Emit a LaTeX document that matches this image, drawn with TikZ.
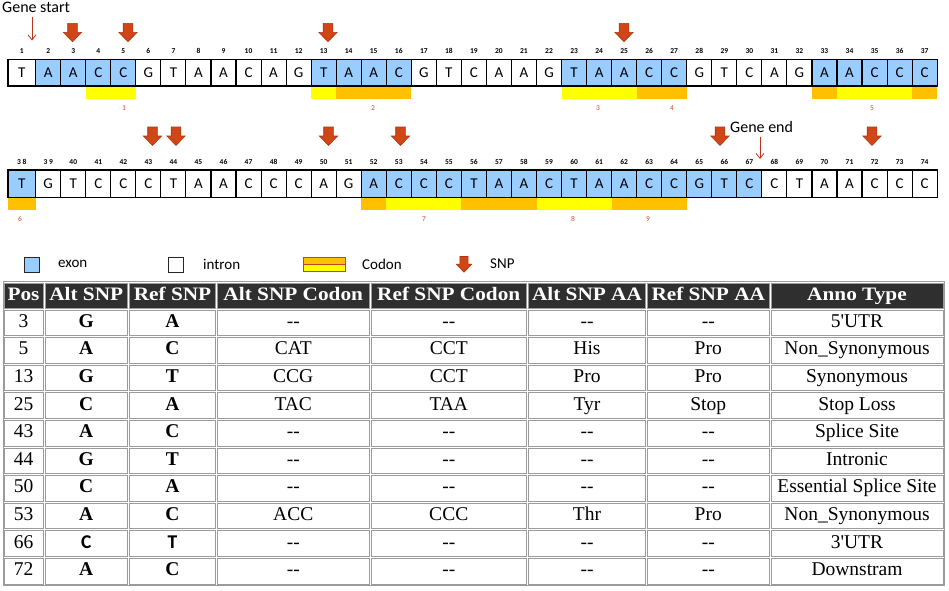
\documentclass[tikz,border=0pt]{standalone}
\usepackage{fontspec}
\setmainfont{Liberation Serif}
\newfontfamily\calib{Carlito}
\newfontfamily\bodyfont{Liberation Serif}
\newfontfamily\hdrfont[FakeStretch=1.12]{Liberation Serif}
\usetikzlibrary{arrows.meta}
\definecolor{exonblue}{RGB}{153,204,255}
\definecolor{cyellow}{RGB}{255,255,0}
\definecolor{corange}{RGB}{255,192,0}
\definecolor{snpfill}{RGB}{208,70,22}
\definecolor{snpedge}{RGB}{170,55,20}
\definecolor{cnum}{RGB}{220,70,40}
\definecolor{thinarrow}{RGB}{190,50,30}
\definecolor{hdrbg}{RGB}{47,47,47}
\definecolor{tgrid}{RGB}{155,155,155}
\definecolor{codonedge}{RGB}{185,70,40}
\tikzset{
  seqcell/.style={draw=black, line width=1.1pt, inner sep=0pt, outer sep=0pt,
    font=\calib\fontsize{15}{15}\selectfont},
  poslbl/.style={font=\calib\bfseries\fontsize{7.5}{8}\selectfont, inner sep=0pt},
  codonlbl/.style={font=\calib\fontsize{7.5}{8}\selectfont, text=cnum, inner sep=0pt},
  thinarr/.style={draw=thinarrow, line width=0.8pt, -{Straight Barb[length=5pt,width=8pt]}},
  lgtext/.style={font=\calib\fontsize{15}{16}\selectfont, anchor=west, inner sep=0pt},
  gtext/.style={font=\calib\fontsize{16}{17}\selectfont, anchor=west, inner sep=0pt},
  lgbox/.style={draw=black!85, line width=1pt, minimum size=15pt, inner sep=0pt},
  hdrcell/.style={fill=hdrbg, draw=tgrid, line width=1pt, text=white,
    font=\hdrfont\bfseries\fontsize{19}{19}\selectfont, inner sep=0pt,
    minimum height=25pt, text height=13pt, text depth=4pt},
  bodycell/.style={draw=tgrid, line width=1pt, font=\bodyfont\fontsize{19.5}{20}\selectfont,
    inner sep=0pt, minimum height=25.6pt, text height=13pt, text depth=4pt},
  snparrow/.pic={\filldraw[fill=snpfill, draw=snpedge, line width=0.6pt]
    (-4.8,0) -- (4.8,0) -- (4.8,9) -- (9.2,9) -- (0,18.4) -- (-9.2,9) -- (-4.8,9) -- cycle;}
}
\newcommand\dsh{-{}-}
\def\colA{{3,44,128.5,216.5,370,527.5,646.5,770,944}}
\newcommand\tcell[3]{%
  \pgfmathsetmacro\tcA{\colA[#2-1]}\pgfmathsetmacro\tcB{\colA[#2]}%
  \pgfmathsetmacro\tcW{\tcB-\tcA-2}\pgfmathsetmacro\tcC{(\tcA+\tcB)/2}%
  \pgfmathsetmacro\tcY{309+27.6*(#1-0.5)}%
  \node[bodycell, minimum width=\tcW pt] (t#1-#2) at (\tcC,\tcY) {#3};}
\newcommand\trow[9]{\tcell{#1}{1}{#2}\tcell{#1}{2}{\bfseries #3}\tcell{#1}{3}{\bfseries #4}%
  \tcell{#1}{4}{#5}\tcell{#1}{5}{#6}\tcell{#1}{6}{#7}\tcell{#1}{7}{#8}\tcell{#1}{8}{#9}}
\begin{document}
\begin{tikzpicture}[x=1pt,y=-1pt,
  declare function={bl(\i)=ifthenelse(\i==1,8,35.7+(\i-2)*25.04); br(\i)=35.7+(\i-1)*25.04;}]
\useasboundingbox (0,0) rectangle (949,590);
\fill[white] (0,0) rectangle (949,590);

% ---------- codon bars row 1
\fill[cyellow] ({bl(4)},86) rectangle ({br(5)},98.5);
\fill[cyellow] ({bl(13)},86) rectangle ({br(13)},98.5);
\fill[corange] ({bl(14)},86) rectangle ({br(16)},98.5);
\fill[cyellow] ({bl(23)},86) rectangle ({br(25)},98.5);
\fill[corange] ({bl(26)},86) rectangle ({br(27)},98.5);
\fill[corange] ({bl(33)},86) rectangle ({br(33)},98.5);
\fill[cyellow] ({bl(34)},86) rectangle ({br(36)},98.5);
\fill[corange] ({bl(37)},86) rectangle ({br(37)},98.5);
% ---------- codon bars row 2
\fill[corange] ({bl(1)},197.3) rectangle ({br(1)},209.5);
\fill[corange] ({bl(15)},197.3) rectangle ({br(15)},209.5);
\fill[cyellow] ({bl(16)},197.3) rectangle ({br(18)},209.5);
\fill[corange] ({bl(19)},197.3) rectangle ({br(21)},209.5);
\fill[cyellow] ({bl(22)},197.3) rectangle ({br(24)},209.5);
\fill[corange] ({bl(25)},197.3) rectangle ({br(27)},209.5);

% ---------- sequence row 1
\foreach \lt/\isx [count=\i] in {T/0,A/1,A/1,C/1,C/1,G/0,T/0,A/0,A/0,C/0,A/0,G/0,T/1,A/1,A/1,C/1,G/0,T/0,C/0,A/0,A/0,G/0,T/1,A/1,A/1,C/1,C/1,G/0,T/0,C/0,A/0,G/0,A/1,A/1,C/1,C/1,C/1}{
  \pgfmathsetmacro\xL{bl(\i)}\pgfmathsetmacro\xR{br(\i)}
  \pgfmathsetmacro\xW{\xR-\xL}\pgfmathsetmacro\xC{(\xL+\xR)/2}
  \ifnum\isx=1 \def\fc{exonblue}\else\def\fc{white}\fi
  \node[seqcell, fill=\fc, minimum width=\xW pt, minimum height=26.5pt] (a\i) at (\xC,72.75) {\lt};
  \node[poslbl] (pa\i) at (\xC,51) {\i};
}
% ---------- sequence row 2
\foreach \lt/\isx/\pn [count=\i] in {T/1/3 8,G/0/3 9,T/0/40,C/0/41,C/0/42,C/0/43,T/0/44,A/0/45,A/0/46,C/0/47,C/0/48,C/0/49,A/0/50,G/0/51,A/1/52,C/1/53,C/1/54,C/1/55,T/1/56,A/1/57,A/1/58,C/1/59,T/1/60,A/1/61,A/1/62,C/1/63,C/1/64,G/1/65,T/1/66,C/1/67,C/0/68,T/0/69,A/0/70,A/0/71,C/0/72,C/0/73,C/0/74}{
  \pgfmathsetmacro\xL{bl(\i)}\pgfmathsetmacro\xR{br(\i)}
  \pgfmathsetmacro\xW{\xR-\xL}\pgfmathsetmacro\xC{(\xL+\xR)/2}
  \ifnum\isx=1 \def\fc{exonblue}\else\def\fc{white}\fi
  \node[seqcell, fill=\fc, minimum width=\xW pt, minimum height=27.3pt] (b\i) at (\xC,183.65) {\lt};
  \node[poslbl] (pb\i) at (\xC,162) {\pn};
}

% ---------- codon labels
\node[codonlbl] (k1) at (124,108) {1};
\node[codonlbl] (k2) at (373,108) {2};
\node[codonlbl] (k3) at (598,108) {3};
\node[codonlbl] (k4) at (672,108) {4};
\node[codonlbl] (k5) at (872,108) {5};
\node[codonlbl] (k6) at (20,219) {6};
\node[codonlbl] (k7) at (424,219) {7};
\node[codonlbl] (k8) at (573,219) {8};
\node[codonlbl] (k9) at (648,219) {9};

% ---------- SNP arrows
\pic (s3) at (72.5,23.3) {snparrow};
\pic (s5) at (128,23.3) {snparrow};
\pic (s13) at (328,23.3) {snparrow};
\pic (s25) at (624,23.3) {snparrow};
\pic (s43) at (152.5,127) {snparrow};
\pic (s44) at (176,127) {snparrow};
\pic (s50) at (328.5,127) {snparrow};
\pic (s53) at (400.5,127) {snparrow};
\pic (s66) at (720,127) {snparrow};
\pic (s72) at (872,127) {snparrow};

% ---------- gene start / end
\node[gtext] (gs) at (2,7.5) {Gene start};
\coordinate (gsA) at (32,16.5);
\coordinate (gsB) at (32,40.5);
\draw[thinarr] (gsA) -- (gsB);
\node[gtext] (ge) at (730,127) {Gene end};
\coordinate (geA) at (760,136.5);
\coordinate (geB) at (760,159);
\draw[thinarr] (geA) -- (geB);

% ---------- legend
\node[lgbox, fill=exonblue] (lgex) at (32,264.5) {};
\node[lgtext] (lgext) at (58,264) {exon};
\node[lgbox, fill=white] (lgin) at (176,264.5) {};
\node[lgtext] (lgint) at (203,264) {intron};
\fill[corange] (303,257) rectangle (345,264.2);
\fill[cyellow] (303,264.2) rectangle (345,271.5);
\draw[codonedge, line width=1pt] (303,257) rectangle (345,271.5) (303,264.2) -- (345,264.2);
\node[lgtext] (lgcot) at (362,264) {Codon};
\pic[scale=0.85] (lgsnp) at (464,256.5) {snparrow};
\node[lgtext] (lgsnt) at (490,264) {SNP};

% ---------- table
\draw[tgrid, line width=1pt] (3,281.5) rectangle (944.5,585.5);
\foreach \a/\b/\t [count=\j] in {3/44/Pos, 44/128.5/Alt SNP, 128.5/216.5/Ref SNP, 216.5/370/Alt SNP Codon, 370/527.5/Ref SNP Codon, 527.5/646.5/Alt SNP AA, 646.5/770/Ref SNP AA, 770/944/Anno Type}{
  \pgfmathsetmacro\xW{\b-\a-2}\pgfmathsetmacro\xC{(\a+\b)/2}
  \node[hdrcell, minimum width=\xW pt] (h\j) at (\xC,295.5) {\t};
}
\trow{1}{3}{G}{A}{\dsh}{\dsh}{\dsh}{\dsh}{5'UTR}
\trow{2}{5}{A}{C}{CAT}{CCT}{His}{Pro}{Non\_Synonymous}
\trow{3}{13}{G}{T}{CCG}{CCT}{Pro}{Pro}{Synonymous}
\trow{4}{25}{C}{A}{TAC}{TAA}{Tyr}{Stop}{Stop Loss}
\trow{5}{43}{A}{C}{\dsh}{\dsh}{\dsh}{\dsh}{Splice Site}
\trow{6}{44}{G}{T}{\dsh}{\dsh}{\dsh}{\dsh}{Intronic}
\trow{7}{50}{C}{A}{\dsh}{\dsh}{\dsh}{\dsh}{Essential Splice Site}
\trow{8}{53}{A}{C}{ACC}{CCC}{Thr}{Pro}{Non\_Synonymous}
\trow{9}{66}{\calib C}{\calib T}{\dsh}{\dsh}{\dsh}{\dsh}{3'UTR}
\trow{10}{72}{A}{C}{\dsh}{\dsh}{\dsh}{\dsh}{Downstram}
\end{tikzpicture}
\end{document}
